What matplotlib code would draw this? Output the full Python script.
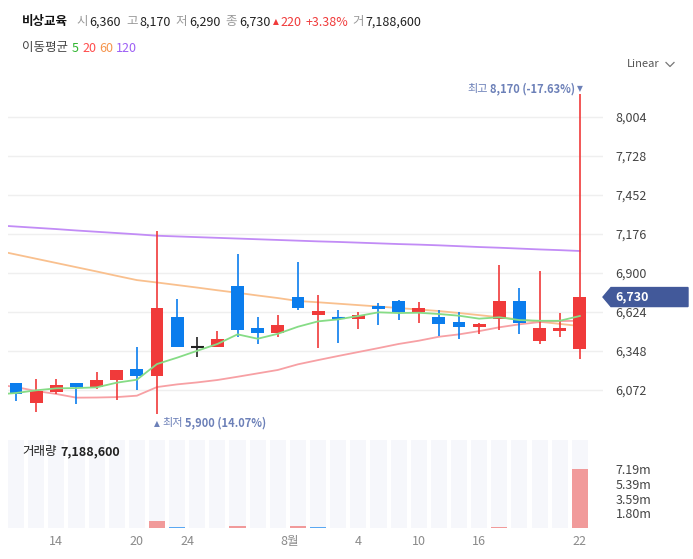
import numpy as np
import matplotlib.pyplot as plt
from matplotlib.patches import Polygon
from matplotlib.lines import Line2D

plt.rcParams['font.family'] = ['Noto Sans CJK KR', 'DejaVu Sans']

# daily candles (2023-07-12 .. 2023-08-22)
opens = [6121, 5983, 6058, 6121, 6093, 6145, 6220, 6173, 6587, 6380,
         6378, 6805, 6509, 6476, 6728, 6601, 6580, 6575, 6664, 6699,
         6622, 6587, 6551, 6518, 6575, 6699, 6420, 6490, 6360]
highs = [6121, 6150, 6150, 6121, 6199, 6213, 6377, 7195, 6714, 6446,
         6488, 7038, 6587, 6603, 6979, 6742, 6636, 6622, 6685, 6706,
         6692, 6636, 6624, 6547, 6960, 6791, 6911, 6615, 8170]
lows = [5994, 5915, 6044, 5976, 6079, 6004, 6072, 5900, 6378, 6309,
        6378, 6450, 6399, 6448, 6636, 6370, 6408, 6507, 6535, 6566,
        6547, 6453, 6436, 6469, 6497, 6469, 6399, 6448, 6290]
closes = [6046, 6065, 6107, 6095, 6142, 6213, 6173, 6650, 6378, 6380,
          6432, 6497, 6476, 6530, 6652, 6629, 6573, 6601, 6645, 6622,
          6655, 6540, 6518, 6537, 6699, 6547, 6509, 6509, 6730]
volumes = [0.03, 0.04, 0.03, 0.02, 0.03, 0.04, 0.05, 0.85, 0.09, 0.04,
           0.03, 0.20, 0.04, 0.05, 0.20, 0.09, 0.03, 0.03, 0.03, 0.04,
           0.03, 0.03, 0.02, 0.02, 0.18, 0.05, 0.03, 0.02, 7.1886]

# moving averages, first value is the day before the visible window
ma5 = [6040, 6051, 6070, 6084, 6086, 6091, 6124, 6145, 6256, 6301, 6350,
       6398, 6466, 6435, 6470, 6520, 6558, 6572, 6596, 6622, 6617,
       6619, 6610, 6598, 6577, 6587, 6567, 6562, 6562, 6596]
ma20 = [6112, 6093, 6065, 6044, 6018, 6019, 6022, 6032, 6093, 6112, 6126,
        6143, 6166, 6190, 6214, 6254, 6284, 6313, 6341, 6369, 6398,
        6421, 6449, 6466, 6489, 6516, 6537, 6553, 6560, 6562]
ma60 = [7061, 7031, 7001, 6971, 6941, 6911, 6880, 6850, 6833, 6815, 6797,
        6778, 6760, 6741, 6723, 6702, 6693, 6683, 6673, 6663, 6652,
        6642, 6631, 6617, 6602, 6587, 6571, 6555, 6540, 6525]
ma120 = [7238, 7229, 7220, 7211, 7201, 7192, 7183, 7174, 7164, 7159, 7154,
         7149, 7144, 7139, 7134, 7129, 7124, 7120, 7115, 7110, 7105,
         7101, 7096, 7090, 7084, 7079, 7073, 7067, 7062, 7056]

date_labels = ['14', '20', '24', '8월', '4', '10', '16', '22']
date_pos = [2, 6, 8.5, 13.57, 17, 20, 23, 28]
price_ticks = [6072, 6348, 6624, 6900, 7176, 7452, 7728, 8004]
vol_ticks = [1.80, 3.59, 5.39, 7.19]

RED = '#f03a3a'
BLUE = '#0b7ded'
GRAY = '#9a9a9a'
DARK = '#222222'
W, H = 693, 559

fig = plt.figure(figsize=(W / 100, H / 100), dpi=100)
ax = fig.add_axes([8 / W, 1 - 432 / H, 595 / W, 352 / H])
vax = fig.add_axes([8 / W, 1 - 528 / H, 595 / W, 88 / H])
renderer = fig.canvas.get_renderer()

x = np.arange(len(closes))
xm = np.arange(-1, len(closes))

# moving average lines
ax.plot(xm, ma120, color='#c28cf6', lw=1.3, zorder=1)
ax.plot(xm, ma60, color='#f9c08e', lw=1.3, zorder=1)
ax.plot(xm, ma20, color='#f7a0a4', lw=1.3, zorder=1)
ax.plot(xm, ma5, color='#86dc86', lw=1.3, zorder=3)

# candles
for i in x:
    o, c = opens[i], closes[i]
    if c > o:
        col = RED
    elif c < o:
        col = BLUE
    else:
        col = '#222222'
    ax.vlines(i, lows[i], highs[i], color=col, lw=1.2, zorder=2)
    h = abs(c - o)
    if h < 8:
        ax.hlines(o, i - 0.32, i + 0.32, color=col, lw=1.5, zorder=2)
    else:
        ax.bar(i, h, bottom=min(o, c), width=0.64, color=col, zorder=2)

ax.set_xlim(-0.4, 29.15)
ax.set_ylim(5775, 8266)
ax.set_yticks(price_ticks)
ax.set_yticklabels([f'{t:,}' for t in price_ticks])
ax.yaxis.tick_right()
ax.tick_params(axis='y', length=0, pad=9, labelsize=9, labelcolor='#444444')
ax.set_xticks([])
ax.grid(axis='y', color='#efefef', lw=1)
ax.set_axisbelow(True)
for s in ax.spines.values():
    s.set_visible(False)

# volume panel
vtop = 10.72
vax.bar(x, [vtop] * len(x), width=0.8, color='#f6f7fb', zorder=0)
vcols = []
for i in x:
    ref = closes[i - 1] if i > 0 else opens[i]
    vcols.append('#f19a9a' if closes[i] >= ref else '#5aa8f2')
vax.bar(x, volumes, width=0.8, color=vcols, zorder=1)
vax.set_xlim(-0.4, 29.15)
vax.set_ylim(0, vtop)
vax.set_yticks(vol_ticks)
vax.set_yticklabels([f'{v:.2f}m' for v in vol_ticks])
vax.yaxis.tick_right()
vax.tick_params(axis='y', length=0, pad=9, labelsize=9, labelcolor='#444444')
vax.set_xticks(date_pos)
vax.set_xticklabels(date_labels)
vax.tick_params(axis='x', length=0, pad=5, labelsize=9, labelcolor='#8a8a8a')
for s in vax.spines.values():
    s.set_visible(False)


def row(x0, py, parts, size=9):
    # lay texts out left to right; parts are (text, color, weight, gap)
    px = x0
    for s, c, w, gap in parts:
        fam = ['DejaVu Sans'] if s == '▲' else None
        t = fig.text(px / W, 1 - py / H, s, color=c, fontweight=w, va='center',
                     fontsize=(5.5 if s == '▲' else size), family=fam)
        px += t.get_window_extent(renderer).width + gap
    return px


# header
row(22, 22, [('비상교육', '#111111', 'bold', 8),
             ('시', GRAY, 'normal', 2), ('6,360', DARK, 'normal', 5),
             ('고', GRAY, 'normal', 2), ('8,170', DARK, 'normal', 5),
             ('저', GRAY, 'normal', 2), ('6,290', DARK, 'normal', 5),
             ('종', GRAY, 'normal', 2), ('6,730', DARK, 'normal', 2),
             ('▲', RED, 'normal', 2), ('220', RED, 'normal', 4),
             ('+3.38%', RED, 'normal', 4),
             ('거', GRAY, 'normal', 2), ('7,188,600', DARK, 'normal', 0)])

row(22, 48, [('이동평균', '#444444', 'normal', 4), ('5', '#2fb52f', 'normal', 3),
             ('20', '#ff4c4c', 'normal', 3), ('60', '#f5944c', 'normal', 3),
             ('120', '#9d5ff5', 'normal', 0)])

fig.text(627 / W, 1 - 64 / H, 'Linear', color='#555555', fontsize=8,
         va='center')
fig.add_artist(Line2D([666 / W, 670 / W, 674 / W],
                      [1 - 62.5 / H, 1 - 66.5 / H, 1 - 62.5 / H],
                      color='#777777', lw=0.9))

row(22, 452, [('거래량', DARK, 'normal', 4),
              ('7,188,600', DARK, 'bold', 0)])

# high / low markers
LBL = '#6c80b8'
xp, yp = ax.transData.transform((7, lows[7]))
fig.text(xp / W, (yp - 9) / H, '▲', color=LBL, fontsize=5.5, ha='center',
         va='center', family='DejaVu Sans')
t1 = fig.text((xp + 5) / W, (yp - 9) / H, '최저', color=LBL, fontsize=8,
              va='center')
w1 = t1.get_window_extent(renderer).width
fig.text((xp + 7 + w1) / W, (yp - 9) / H, '5,900 (14.07%)', color=LBL,
         fontsize=8, va='center', fontweight='bold')

xp, yp = ax.transData.transform((28, highs[28]))
fig.text(xp / W, (yp + 5) / H, '▼', color=LBL, fontsize=5.5, ha='center',
         va='center', family='DejaVu Sans')
t2 = fig.text((xp - 5) / W, (yp + 5) / H, '8,170 (-17.63%)', color=LBL,
              fontsize=8, va='center', ha='right', fontweight='bold')
w2 = t2.get_window_extent(renderer).width
fig.text((xp - 7 - w2) / W, (yp + 5) / H, '최고', color=LBL, fontsize=8,
         va='center', ha='right')

# current price tag
_, yd = ax.transData.transform((0, closes[-1]))
tag = Polygon([(603, yd), (611, yd + 9.5), (688, yd + 9.5), (688, yd - 9.5),
               (611, yd - 9.5)], closed=True, color='#42599a',
              transform=None)
fig.add_artist(tag)
fig.text(615 / W, yd / H, f'{closes[-1]:,}', color='white', fontsize=9,
         fontweight='bold', va='center')

fig.savefig('out.png', dpi=100)
